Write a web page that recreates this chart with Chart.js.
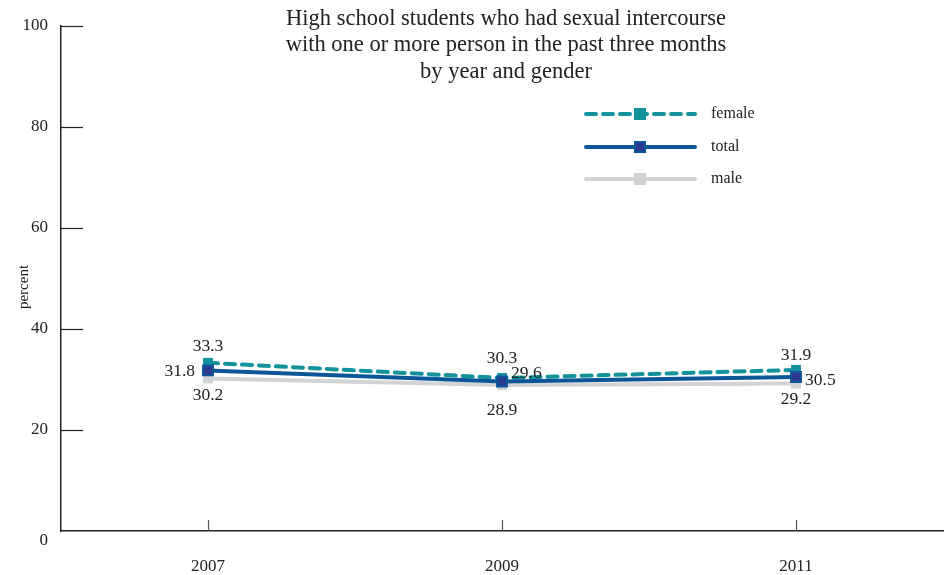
<!DOCTYPE html>
<html>
<head>
<meta charset="utf-8">
<script src="https://cdn.jsdelivr.net/npm/chart.js@4"></script>
<style>
  html, body { margin: 0; padding: 0; background: #fff; }
  #wrap { width: 952px; height: 575px; }
</style>
</head>
<body>
<div id="wrap"><canvas id="chart"></canvas></div>
<script>
const years = ["2007", "2009", "2011"];
const female = [33.3, 30.3, 31.9];
const total = [31.8, 29.6, 30.5];
const male = [30.2, 28.9, 29.2];
const yTicks = [0, 20, 40, 60, 80, 100];

const titleLines = [
    "High school students who had sexual intercourse",
    "with one or more person in the past three months",
    "by year and gender"
];

const serif = "'Liberation Serif', 'DejaVu Serif', serif";

// title, inward ticks, legend, value labels
const decorPlugin = {
    id: "decor",
    afterDraw(chart) {
        const ctx = chart.ctx;
        const x = chart.scales.x, y = chart.scales.y;
        const area = chart.chartArea;
        ctx.save();

        // y ticks pointing right
        ctx.strokeStyle = "#222";
        ctx.lineWidth = 1.2;
        yTicks.forEach(v => {
            if (v === 0) return;
            const py = Math.round(y.getPixelForValue(v)) + 0.5;
            ctx.beginPath();
            ctx.moveTo(area.left, py);
            ctx.lineTo(area.left + 22, py);
            ctx.stroke();
        });
        // x ticks pointing up
        ctx.strokeStyle = "#555";
        years.forEach((yr, i) => {
            const px = Math.round(x.getPixelForValue(i)) + 0.5;
            ctx.beginPath();
            ctx.moveTo(px, area.bottom);
            ctx.lineTo(px, area.bottom - 11);
            ctx.stroke();
        });

        // "0" sits a bit below the axis
        ctx.fillStyle = "#222";
        ctx.font = "17px " + serif;
        ctx.textAlign = "right";
        ctx.textBaseline = "middle";
        ctx.fillText("0", area.left - 13, y.getPixelForValue(0) + 10);

        // y axis title
        ctx.save();
        ctx.translate(24, 287);
        ctx.rotate(-Math.PI / 2);
        ctx.textAlign = "center";
        ctx.font = "15px " + serif;
        ctx.fillText("percent", 0, 0);
        ctx.restore();

        // title
        ctx.font = "22.5px " + serif;
        ctx.textAlign = "center";
        titleLines.forEach((t, i) => ctx.fillText(t, 506, 19 + i * 26.5));

        // legend
        const legend = [
            { label: "female", color: "#12929a", marker: "#12929a", border: "#12929a", dash: [10, 7], y: 114 },
            { label: "total", color: "#0b5696", marker: "#2b3990", border: "#0b5696", dash: [], y: 147 },
            { label: "male", color: "#d2d3d5", marker: "#d2d3d5", border: "#d2d3d5", dash: [], y: 179 }
        ];
        legend.forEach(l => {
            ctx.strokeStyle = l.color;
            ctx.lineWidth = 4;
            ctx.lineCap = "round";
            ctx.setLineDash(l.dash);
            ctx.beginPath();
            ctx.moveTo(586, l.y);
            ctx.lineTo(695, l.y);
            ctx.stroke();
            ctx.setLineDash([]);
            ctx.fillStyle = l.border;
            ctx.fillRect(634, l.y - 6, 12, 12);
            ctx.fillStyle = l.marker;
            ctx.fillRect(636, l.y - 4, 8, 8);
            ctx.fillStyle = "#222";
            ctx.font = "16px " + serif;
            ctx.textAlign = "left";
            ctx.fillText(l.label, 711, l.y);
        });

        // value labels
        ctx.font = "17.5px " + serif;
        ctx.fillStyle = "#222";
        const put = (dsIndex, values, place) => {
            const meta = chart.getDatasetMeta(dsIndex);
            meta.data.forEach((pt, i) => {
                const p = place(i);
                ctx.textAlign = p.align;
                ctx.fillText(values[i].toFixed(1), pt.x + p.dx, pt.y + p.dy);
            });
        };
        // dataset order: 0 total, 1 female, 2 male
        put(1, female, i => ({ align: "center", dx: 0, dy: [-16, -20, -14][i] }));
        put(0, total, i => i === 0
            ? { align: "right", dx: -13, dy: 1 }
            : { align: "left", dx: 9, dy: [0, -8, 3][i] });
        put(2, male, i => ({ align: "center", dx: 0, dy: [17, 25, 16][i] }));

        ctx.restore();
    }
};

new Chart(document.getElementById("chart"), {
    type: "line",
    data: {
        labels: years,
        datasets: [
            {
                label: "total",
                data: total,
                borderColor: "#0b5696",
                backgroundColor: "#2b3990",
                pointBorderColor: "#0b5696",
                pointBackgroundColor: "#2b3990",
                pointStyle: "rect",
                pointRadius: 7,
                pointBorderWidth: 2,
                borderWidth: 4,
                tension: 0
            },
            {
                label: "female",
                data: female,
                borderColor: "#12929a",
                backgroundColor: "#12929a",
                pointStyle: "rect",
                pointRadius: 7,
                pointBorderWidth: 0,
                borderWidth: 4,
                borderDash: [10, 7],
                borderCapStyle: "round",
                tension: 0
            },
            {
                label: "male",
                data: male,
                borderColor: "#d2d3d5",
                backgroundColor: "#d2d3d5",
                pointStyle: "rect",
                pointRadius: 7,
                pointBorderWidth: 0,
                borderWidth: 4,
                tension: 0
            }
        ]
    },
    options: {
        responsive: true,
        maintainAspectRatio: false,
        animation: false,
        layout: { padding: { top: 26, right: 2, left: 0, bottom: 0 } },
        scales: {
            x: {
                offset: true,
                grid: { drawOnChartArea: false, drawTicks: false },
                border: { display: true, color: "#222", width: 1.5 },
                ticks: { color: "#222", font: { family: serif, size: 17 }, padding: 25 },
                afterFit(scale) { scale.height = 44; }
            },
            y: {
                min: 0,
                max: 100,
                afterBuildTicks(scale) { scale.ticks = yTicks.map(v => ({ value: v })); },
                grid: { drawOnChartArea: false, drawTicks: false },
                border: { display: true, color: "#222", width: 1.5 },
                ticks: {
                    color: "#222",
                    font: { family: serif, size: 17 },
                    padding: 13,
                    callback: v => (v === 0 ? "" : v)
                },
                afterFit(scale) { scale.width = 61; }
            }
        },
        plugins: {
            legend: { display: false },
            tooltip: { enabled: false }
        }
    },
    plugins: [decorPlugin]
});
</script>
</body>
</html>
